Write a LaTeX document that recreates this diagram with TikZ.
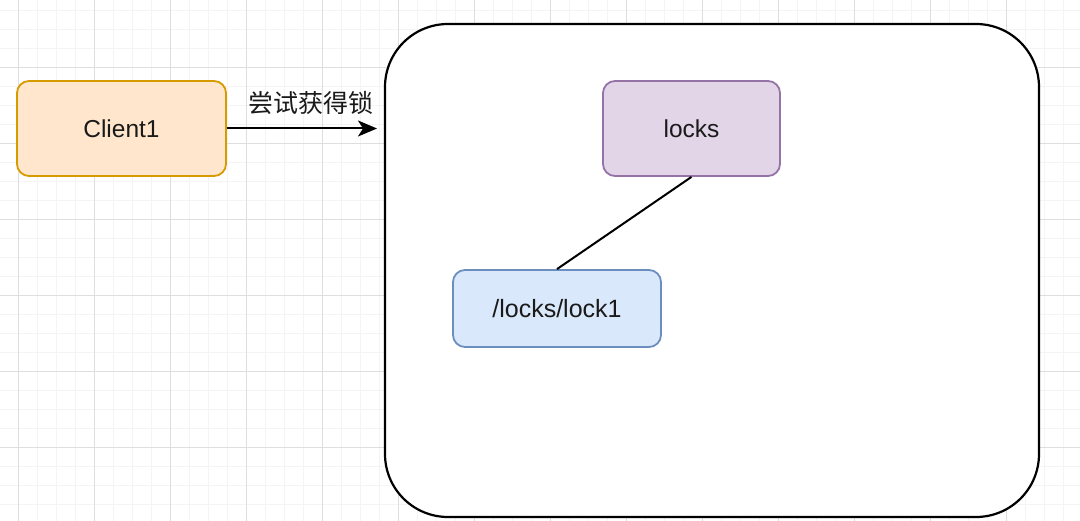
\documentclass[tikz,border=0pt]{standalone}
\usepackage{fontspec}
\setmainfont{Liberation Sans}
\newfontfamily\cjk{Noto Sans CJK SC}
\usetikzlibrary{arrows.meta}
\definecolor{orfill}{HTML}{FFE6CC}
\definecolor{ordraw}{HTML}{D79B00}
\definecolor{pufill}{HTML}{E1D5E7}
\definecolor{pudraw}{HTML}{9673A6}
\definecolor{blfill}{HTML}{DAE8FC}
\definecolor{bldraw}{HTML}{6C8EBF}
\definecolor{txt}{HTML}{1A1A1A}
\definecolor{gminor}{HTML}{F4F4F4}
\definecolor{gmajor}{HTML}{DEDEDE}
\tikzset{
  minorgrid/.style={draw=gminor, line width=0.8pt},
  majorgrid/.style={draw=gmajor, line width=0.9pt},
  boxnode/.style={rounded corners=12pt, line width=1.8pt, text=txt, inner sep=0pt},
  bigbox/.style={draw=black, line width=2.2pt, fill=white, rounded corners=63pt},
  link/.style={draw=black, line width=2pt},
}
\begin{document}
\begin{tikzpicture}[x=1pt,y=-1pt]
\useasboundingbox (0,0) rectangle (1080,521);
\fill[white] (0,0) rectangle (1080,521);
% grid
\foreach \x in {-0.7,18.3,...,1080} \draw[minorgrid] (\x,0) -- (\x,521);
\foreach \y in {-8.7,10.3,...,521} \draw[minorgrid] (0,\y) -- (1080,\y);
\foreach \x in {18.3,94.3,...,1080} \draw[majorgrid] (\x,0) -- (\x,521);
\foreach \y in {-8.7,67.3,...,521} \draw[majorgrid] (0,\y) -- (1080,\y);
% big container
\node[bigbox, minimum width=654pt, minimum height=493pt] (store) at (712,270.5) {};
% nodes
\node[boxnode, draw=ordraw, fill=orfill, minimum width=209pt, minimum height=95pt]
  (client) at (121.5,128.5) {\fontsize{24.5pt}{30pt}\selectfont\raisebox{-2.5pt}{Client1}};
\node[boxnode, draw=pudraw, fill=pufill, minimum width=177pt, minimum height=95pt]
  (locks) at (691.5,128.5) {\fontsize{24.5pt}{30pt}\selectfont\raisebox{-2.5pt}{locks}};
\node[boxnode, draw=bldraw, fill=blfill, minimum width=208pt, minimum height=77pt]
  (lockone) at (557,308.5) {\fontsize{25pt}{30pt}\selectfont\raisebox{-2pt}{/locks/lock1}};
\coordinate (target) at (377,128.5);
% connectors
\draw[link, -{Stealth[length=19pt, width=16pt, inset=5pt]}] (client.east) -- (target);
\node[text=txt, font=\cjk\fontsize{25pt}{28pt}\selectfont, inner sep=0pt] (lbl) at (310.5,102.5) {尝试获得锁};
\draw[link] (locks.south) -- (lockone.north);
\end{tikzpicture}
\end{document}
